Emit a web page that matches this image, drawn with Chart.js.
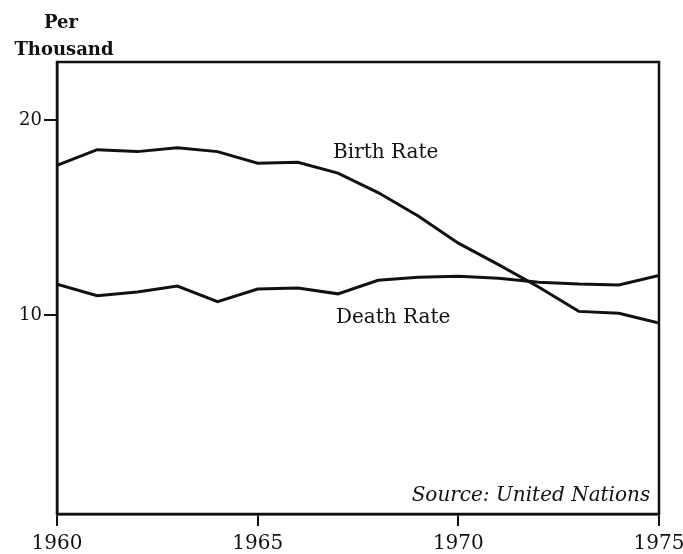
<!DOCTYPE html>
<html>
<head>
<meta charset="utf-8">
<script src="https://cdn.jsdelivr.net/npm/chart.js@4"></script>
<style>
  html, body { margin: 0; padding: 0; background: #fff; }
  #wrap { width: 683px; height: 554px; }
</style>
</head>
<body>
<div id="wrap"><canvas id="chart" width="683" height="554"></canvas></div>
<script>
// values (per thousand)
const years = [1960, 1961, 1962, 1963, 1964, 1965, 1966, 1967, 1968, 1969, 1970, 1971, 1972, 1973, 1974, 1975];
const birthRate = [17.7, 18.5, 18.4, 18.6, 18.4, 17.8, 17.85, 17.3, 16.3, 15.1, 13.7, 12.6, 11.45, 10.2, 10.1, 9.6];
const deathRate = [11.6, 11.0, 11.2, 11.5, 10.7, 11.35, 11.4, 11.1, 11.8, 11.95, 12.0, 11.9, 11.7, 11.6, 11.55, 12.05];
const xTicks = [1960, 1965, 1970, 1975];
const yTicks = [10, 20];

const ink = "#111";
const serif = "'DejaVu Serif', 'Liberation Serif', serif";

function toPoints(values) {
    return years.map((year, i) => ({ x: year, y: values[i] }));
}

// frame around the plot plus the hand-placed labels
const labelsPlugin = {
    id: "labels",
    afterDraw(chart) {
        const ctx = chart.ctx;
        const area = chart.chartArea;
        const xs = chart.scales.x;
        const ys = chart.scales.y;
        ctx.save();
        ctx.strokeStyle = ink;
        ctx.lineWidth = 2.5;
        ctx.strokeRect(area.left, area.top, area.right - area.left, area.bottom - area.top);

        ctx.fillStyle = ink;
        ctx.textBaseline = "alphabetic";
        ctx.font = "bold 18px " + serif;
        ctx.textAlign = "center";
        ctx.fillText("Per", 61, 28);
        ctx.fillText("Thousand", 64, 55);

        ctx.font = "20px " + serif;
        ctx.textAlign = "left";
        ctx.fillText("Birth Rate", xs.getPixelForValue(1966.88), ys.getPixelForValue(18.05));
        ctx.fillText("Death Rate", xs.getPixelForValue(1966.95), ys.getPixelForValue(9.6));

        ctx.font = "italic 20px " + serif;
        ctx.textAlign = "right";
        ctx.fillText("Source: United Nations", xs.getPixelForValue(1974.78), ys.getPixelForValue(0.46));
        ctx.restore();
    }
};

new Chart(document.getElementById("chart"), {
    type: "line",
    data: {
        datasets: [
            {
                label: "Birth Rate",
                data: toPoints(birthRate),
                borderColor: ink,
                borderWidth: 3,
                pointRadius: 0,
                tension: 0
            },
            {
                label: "Death Rate",
                data: toPoints(deathRate),
                borderColor: ink,
                borderWidth: 3,
                pointRadius: 0,
                tension: 0
            }
        ]
    },
    options: {
        responsive: false,
        animation: false,
        layout: { padding: { top: 62, right: 24, left: 0, bottom: 0 } },
        plugins: {
            legend: { display: false },
            tooltip: { enabled: false }
        },
        scales: {
            x: {
                type: "linear",
                min: 1960,
                max: 1975,
                afterBuildTicks: scale => { scale.ticks = xTicks.map(v => ({ value: v })); },
                afterFit: scale => {
                    scale.height = 40;
                    // let the last year label overhang the right margin
                    scale.paddingRight = 0;
                    scale.paddingLeft = 0;
                },
                border: { display: true, color: ink, width: 2.5 },
                grid: { drawOnChartArea: false, drawTicks: true, tickLength: 12, color: ink, lineWidth: 2 },
                ticks: {
                    color: ink,
                    font: { family: serif, size: 20 },
                    padding: 6,
                    maxRotation: 0,
                    callback: value => String(value)
                }
            },
            y: {
                type: "linear",
                min: -0.2,
                max: 23,
                afterBuildTicks: scale => { scale.ticks = yTicks.map(v => ({ value: v })); },
                afterFit: scale => { scale.width = 57; },
                border: { display: true, color: ink, width: 2.5 },
                grid: { drawOnChartArea: false, drawTicks: true, tickLength: 13, color: ink, lineWidth: 2 },
                ticks: {
                    color: ink,
                    font: { family: serif, size: 18 },
                    padding: 2,
                    callback: value => String(value)
                }
            }
        }
    },
    plugins: [labelsPlugin]
});
</script>
</body>
</html>
